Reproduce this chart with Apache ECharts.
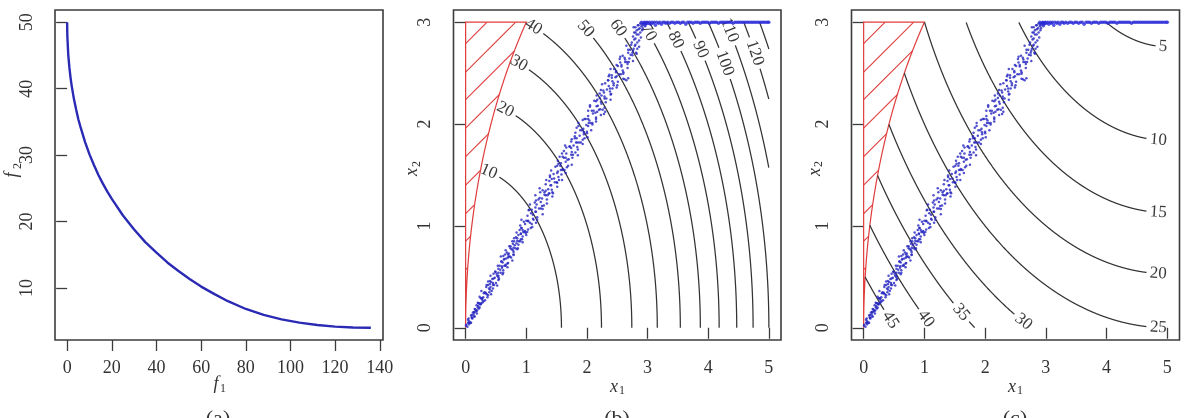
<!DOCTYPE html>
<html><head><meta charset="utf-8">
<script src="https://cdn.jsdelivr.net/npm/echarts@6/dist/echarts.min.js"></script>
<style>html,body{margin:0;padding:0;background:#fff}#c{width:1192px;height:418px}</style>
</head><body><div id="c"></div>
<script>
// ---------- data ----------
// (a) Pareto front
const PARETO_F1 = [0,0.02,0.1,0.5,1,1.5,2,3,4,5,6,8,10,12,14,16,18,20,25,30,35,40,45,50,55,60,66,72,80,88,96,104,112,120,128,136];
const PARETO_F2 = [50,49.0,47.8,45.1,43.2,41.7,40.5,38.5,36.9,35.4,34.2,32,30.1,28.5,27.0,25.7,24.5,23.4,20.9,18.8,16.9,15.3,13.8,12.5,11.3,10.2,9.06,8,6.83,5.94,5.27,4.77,4.41,4.17,4.04,4.0];
const F1_TICKS = [0,20,40,60,80,100,120,140];
const F2_TICKS = [10,20,30,40,50];
const X1_TICKS = [0,1,2,3,4,5];
const X2_TICKS = [0,1,2,3];

// (b) contours of f1 (circles about the origin)
const B_LEVELS = [10,20,30,40,50,60,70,80,90,100,110,120,130];
const B_RADII  = [1.58,2.24,2.74,3.16,3.54,3.87,4.18,4.47,4.74,5.00,5.24,5.48,5.70];
const B_CENTER = [0,0];
// (c) contours of f2 (circles about (5,5))
const C_LEVELS = [5,10,15,20,25,30,35,40,45];
const C_RADII  = [2.24,3.16,3.87,4.47,5.00,5.48,5.92,6.32,6.71];
const C_CENTER = [5,5];
// feasible-region boundary (infeasible part hatched in red)
const FEAS_CENTER = [5,0];
const FEAS_R = 5;
const HATCH_STARTS = [2.79,2.51,2.24,1.96,1.68,1.40,1.12,0.85,0.57,0.29];

// Pareto set samples (x1, x2)
const PARETO_SET = [
[0.01,0.03],[0.03,0.01],[0.04,0.05],[0.05,0.09],[0.06,0.05],[0.08,0.05],[0.09,0.12],[0.1,0.1],[0.11,0.09],[0.12,0.15],[0.13,0.13],[0.14,0.15],[0.15,0.11],[0.16,0.18],[0.17,0.16],[0.18,0.22],[0.19,0.17],[0.2,0.2],[0.21,0.24],[0.22,0.19],[0.23,0.24],[0.24,0.23],[0.25,0.29],[0.26,0.24],[0.27,0.29],[0.28,0.25],[0.29,0.3],[0.3,0.34],
[0.31,0.35],[0.32,0.27],[0.33,0.34],[0.345,0.42],[0.35,0.33],[0.36,0.3],[0.37,0.42],[0.385,0.385],[0.39,0.35],[0.4,0.46],[0.41,0.4],[0.42,0.45],[0.43,0.36],[0.44,0.48],[0.45,0.42],[0.46,0.53],[0.47,0.42],[0.48,0.49],[0.49,0.55],[0.5,0.44],[0.51,0.53],[0.52,0.51],[0.53,0.61],[0.54,0.51],[0.55,0.48],[0.56,0.61],[0.57,0.57],[0.58,0.54],[0.59,0.65],[0.6,0.59],[0.61,0.64],[0.62,0.54],[0.63,0.67],[0.64,0.61],[0.65,0.72],[0.66,0.61],[0.67,0.68],[0.68,0.74],[0.69,0.63],[0.7,0.72],[0.71,0.7],[0.72,0.8],[0.73,0.7],[0.74,0.78],[0.75,0.69],[0.76,0.77],[0.77,0.85],[0.78,0.76],[0.79,0.72],[0.8,0.85],[0.81,0.81],[0.82,0.78],[0.83,0.89],[0.84,0.83],[0.85,0.88],[0.86,0.78],[0.87,0.91],[0.88,0.85],[0.89,0.96],[0.9,0.85],[0.91,0.92],[0.92,0.98],[0.93,0.87],[0.94,0.96],[0.95,0.94],[0.96,1.04],[0.97,0.94],[0.98,1.02],[0.99,0.93],
[1.0,1.05],[1.015,0.94],[1.03,1.05],[1.045,1.16],[1.06,1.03],[1.075,0.98],[1.09,1.16],[1.11,1.11],[1.12,1.06],[1.14,1.23],[1.15,1.14],[1.17,1.21],[1.18,1.06],[1.2,1.26],[1.21,1.17],[1.23,1.33],[1.24,1.17],[1.26,1.27],[1.27,1.35],[1.29,1.2],[1.3,1.33],[1.32,1.3],[1.33,1.45],[1.35,1.3],[1.36,1.36],[1.38,1.32],[1.39,1.48],[1.41,1.4],[1.42,1.46],[1.44,1.32],[1.45,1.51],[1.47,1.43],[1.48,1.58],[1.5,1.43],[1.51,1.52],[1.53,1.61],[1.54,1.45],[1.56,1.59],[1.57,1.55],[1.59,1.71],[1.6,1.55],[1.62,1.67],[1.63,1.55],[1.65,1.67],[1.66,1.77],[1.68,1.65],[1.69,1.59],[1.71,1.78],[1.72,1.78],[1.74,1.7],[1.75,1.85],[1.77,1.7],[1.78,1.79],[1.8,1.88],[1.81,1.72],[1.83,1.86],[1.84,1.82],[1.86,1.98],[1.87,1.82],[1.89,1.94],[1.9,1.82],[1.92,1.94],[1.93,2.04],[1.95,1.92],[1.96,1.86],[1.98,2.05],[1.99,1.99],
[2.0,1.91],[2.02,2.05],[2.03,2.01],[2.05,2.17],[2.06,2.01],[2.08,2.13],[2.09,2.01],[2.11,2.13],[2.12,2.23],[2.14,2.11],[2.15,2.05],[2.17,2.24],[2.18,2.18],[2.2,2.14],[2.21,2.3],[2.23,2.22],[2.24,2.28],[2.26,2.14],[2.27,2.33],[2.29,2.25],[2.3,2.4],[2.32,2.25],[2.33,2.34],[2.35,2.43],[2.36,2.47],[2.38,2.35],[2.39,2.29],[2.41,2.48],[2.42,2.42],[2.44,2.38],[2.45,2.54],[2.47,2.46],[2.48,2.52],[2.5,2.38],[2.51,2.57],[2.53,2.49],[2.54,2.64],[2.56,2.49],[2.57,2.58],[2.59,2.67],[2.6,2.51],[2.62,2.65],[2.63,2.61],[2.65,2.77],[2.66,2.61],[2.68,2.73],[2.69,2.61],[2.71,2.73],
[2.65,2.43],[2.68,2.45],[2.62,2.44],[2.3,2.12],[2.28,2.1],[1.55,1.68],[1.15,1.3],[0.58,0.7],
[2.72,2.68],[2.74,2.8],[2.75,2.7],[2.76,2.86],[2.77,2.74],[2.78,2.9],[2.79,2.77],[2.8,2.95],[2.8,2.84],[2.81,2.7],[2.82,2.92],[2.83,2.8],[2.84,2.97],[2.85,2.88],[2.86,2.76],[2.87,2.94],[2.88,2.99],[2.89,2.85],[2.9,2.96],[2.91,2.92],[2.92,2.99],[2.93,2.97],[2.95,3.0],[2.97,2.98],[2.99,3.0],
[0.005,0.02],[0.056,0.035],[0.089,0.05],[0.059,0.065],[0.038,0.08],[0.107,0.095],[0.137,0.11],[0.101,0.125],[0.185,0.14],[0.14,0.155],[0.176,0.17],[0.149,0.185],[0.23,0.2],[0.206,0.215],[0.248,0.23],[0.2,0.245],[0.296,0.26],[0.275,0.275],[0.263,0.29],
[0.23,0.305],[0.37,0.32],[0.42,0.33],[0.33,0.345],[0.26,0.36],[0.4,0.375],[0.45,0.385],[0.34,0.4],[0.52,0.415],[0.4,0.43],[0.45,0.44],[0.37,0.455],[0.54,0.47],[0.46,0.485],[0.54,0.495],[0.41,0.51],[0.61,0.525],[0.54,0.54],[0.49,0.55],[0.62,0.565],[0.54,0.58],[0.69,0.595],[0.6,0.605],[0.66,0.62],
[0.7,0.635],[0.59,0.65],[0.77,0.66],[0.64,0.675],[0.7,0.69],[0.62,0.705],[0.79,0.715],[0.71,0.73],[0.79,0.745],[0.66,0.76],[0.85,0.77],[0.79,0.785],[0.74,0.8],[0.87,0.815],[0.78,0.825],[0.94,0.84],[0.85,0.855],[0.91,0.87],[0.8,0.88],[0.94,0.895],[1.0,0.91],[0.91,0.925],[0.84,0.935],[0.98,0.95],[1.03,0.965],[0.92,0.98],[1.1,0.99],
[0.9,1.005],[1.09,1.02],[1.16,1.03],[1.03,1.045],[0.92,1.06],[1.11,1.07],[1.18,1.085],[1.02,1.1],[1.27,1.115],[1.08,1.125],[1.16,1.14],[1.04,1.155],[1.27,1.165],[1.15,1.18],[1.26,1.195],[1.06,1.21],[1.34,1.22],[1.24,1.235],[1.16,1.25],[1.34,1.26],[1.22,1.275],[1.43,1.29],[1.3,1.305],[1.37,1.315],
[1.43,1.33],[1.32,1.345],[1.42,1.355],[1.22,1.37],[1.51,1.385],[1.4,1.4],[1.32,1.41],[1.51,1.425],[1.38,1.44],[1.59,1.45],[1.46,1.465],[1.53,1.48],[1.39,1.495],[1.58,1.505],[1.65,1.52],[1.52,1.535],[1.41,1.545],[1.6,1.56],[1.67,1.575],[1.51,1.59],[1.75,1.6],[1.57,1.615],[1.65,1.63],[1.52,1.64],
[1.7,1.655],[1.76,1.67],[1.6,1.68],[1.85,1.695],[1.66,1.71],[1.75,1.725],[1.62,1.735],[1.85,1.75],[1.74,1.765],[1.84,1.775],[1.64,1.79],[1.93,1.805],[1.82,1.82],[1.74,1.83],[1.93,1.845],[1.8,1.86],[2.01,1.87],[1.88,1.885],[1.95,1.9],[1.81,1.915],[2.0,1.925],[2.07,1.94],[1.94,1.955],[1.83,1.965],[2.02,1.98],[2.09,1.995],
[1.86,2.01],[2.15,2.025],[2.04,2.035],[1.96,2.05],[2.15,2.065],[2.02,2.08],[2.23,2.09],[2.1,2.105],[2.17,2.12],[2.02,2.13],[2.22,2.145],[2.29,2.16],[2.16,2.175],[2.05,2.185],[2.24,2.2],[2.31,2.215],[2.15,2.225],[2.39,2.24],[2.21,2.255],[2.29,2.27],[2.16,2.28],[2.4,2.295],[2.28,2.31],[2.38,2.32],
[2.23,2.335],[2.42,2.35],[2.49,2.36],[2.36,2.375],[2.25,2.39],[2.44,2.4],[2.51,2.415],[2.35,2.43],[2.6,2.445],[2.41,2.455],[2.49,2.47],[2.37,2.485],[2.6,2.495],[2.48,2.51],[2.59,2.525],[2.39,2.54],[2.67,2.55],[2.57,2.565],[2.49,2.58],[2.67,2.59],[2.55,2.605],[2.76,2.62],[2.63,2.635],[2.7,2.645],[2.55,2.66],[2.75,2.675],[2.82,2.69],[2.68,2.7],
[2.73,2.78],[2.76,2.72],[2.78,2.83],[2.8,2.78],[2.82,2.88],[2.83,2.74],[2.85,2.93],[2.86,2.82],[2.88,2.9],[2.9,2.98],[2.92,2.94],[2.94,2.99],[2.96,2.96],[2.98,2.99],[2.85,2.97],[2.8,2.9],[2.77,2.95]
];
const TOP_SET = [
[2.9,3],[2.93,2.99],[2.95,3],[2.97,2.98],[2.99,3],[3.01,2.99],[3.03,3],[3.05,2.98],[3.07,3],[3.09,2.99],[3.11,3],[3.13,2.97],[3.15,3],[3.18,2.99],[3.2,3],[3.23,2.98],[3.25,3],[3.28,3],[3.3,2.99],[3.33,3],[3.36,2.99],[3.39,3],[3.42,3],[3.45,2.99],[3.48,3],[3.51,3],[3.54,2.99],[3.57,3],[3.6,3],[3.63,2.98],[3.66,3],[3.69,3],[3.72,3],[3.75,2.99],[3.78,3],[3.81,3],[3.84,3],[3.87,2.99],[3.9,3],[3.93,3],[3.96,3],[3.99,3],[4.02,2.99],[4.05,3],[4.08,3],[4.11,3],[4.14,3],[4.17,2.99],[4.2,3],[4.23,3],[4.26,3],[4.29,3],[4.32,3],[4.35,3],[4.38,3],[4.41,2.99],[4.44,3],[4.47,3],[4.5,3],[4.53,3],[4.56,3],[4.59,3],[4.62,3],[4.65,3],[4.68,3],[4.71,3],[4.74,3],[4.77,3],[4.8,3],[4.83,3],[4.86,3],[4.89,3],[4.92,3],[4.95,3],[4.98,3],[5.0,3]
];

// ---------- layout / style ----------
const FONT = '"Liberation Serif", "DejaVu Serif", serif';
const LABEL_SIZE = 17;
const RED = '#e03c3c';
const INK = '#333';
const DOT = '#2626c0';
// label positions along each contour (angle about the circle centre, degrees)
const B_LABEL_ANG = [76,73,71.3,69.3,56,49.5,43.9,39.2,35.2,31.3,33.9,29.5,null];
const C_LABEL_ANG = [-91.8,-92.7,-92.2,-91.9,-91.7,-115.6,-125,-129,-132.8];

function inFeasible(x, y) {
  const e = 1e-9;
  return x >= -e && x <= 5 + e && y >= -e && y <= 3 + e &&
    (x - FEAS_CENTER[0]) ** 2 + (y - FEAS_CENTER[1]) ** 2 <= FEAS_R * FEAS_R + e;
}

function makeContour(center, radii, levels, labelAng) {
  return function (params, api) {
    const i = params.dataIndex;
    const r = radii[i];
    const la = labelAng[i];
    const text = la == null ? null : String(levels[i]);
    let lp = null, rot = 0, gap = 0;
    if (text) {
      const t = la * Math.PI / 180, d = 0.5 * Math.PI / 180;
      const P = a => api.coord([center[0] + r * Math.cos(a), center[1] + r * Math.sin(a)]);
      lp = P(t);
      const p1 = P(t - d), p2 = P(t + d);
      let dx = p2[0] - p1[0], dy = p2[1] - p1[1];
      if (dx < 0) { dx = -dx; dy = -dy; }
      rot = -Math.atan2(dy, dx);
      gap = text.length * LABEL_SIZE * 0.26 + 3;
    }
    const segs = []; let cur = [];
    for (let a = -180; a <= 180; a += 0.05) {
      const t = a * Math.PI / 180;
      const x = center[0] + r * Math.cos(t), y = center[1] + r * Math.sin(t);
      let ok = inFeasible(x, y), p = null;
      if (ok) {
        p = api.coord([x, y]);
        if (lp && Math.hypot(p[0] - lp[0], p[1] - lp[1]) < gap) ok = false;
      }
      if (ok) cur.push(p); else if (cur.length) { segs.push(cur); cur = []; }
    }
    if (cur.length) segs.push(cur);
    const children = segs.filter(s => s.length > 1).map(s => ({
      type: 'polyline', shape: { points: s }, silent: true,
      style: { stroke: INK, lineWidth: 1.25, fill: 'none' }
    }));
    if (text) children.push({
      type: 'text', x: lp[0], y: lp[1], rotation: rot, silent: true,
      style: { text, font: LABEL_SIZE + 'px ' + FONT, fill: '#3a3a3a', align: 'center', verticalAlign: 'middle' }
    });
    return { type: 'group', children };
  };
}

function redRegion(params, api) {
  const children = [];
  const pts = [api.coord([0, 0]), api.coord([0, 3])];
  const a0 = Math.atan2(3 - FEAS_CENTER[1], 1 - FEAS_CENTER[0]);
  for (let a = a0; a <= Math.PI + 1e-9; a += 0.002)
    pts.push(api.coord([FEAS_CENTER[0] + FEAS_R * Math.cos(a), FEAS_CENTER[1] + FEAS_R * Math.sin(a)]));
  pts.push(api.coord([0, 0]));
  children.push({ type: 'polyline', shape: { points: pts }, silent: true, style: { stroke: RED, lineWidth: 1.2, fill: 'none' } });
  const o = api.coord([0, 0]);
  const sx = api.coord([1, 0])[0] - o[0];
  const sy = o[1] - api.coord([0, 1])[1];
  HATCH_STARTS.forEach(c => {
    const p0 = api.coord([0, c]);
    let t = 0;
    while (t < 600) {
      const x = (t + 0.2) / sx, y = c + (t + 0.2) / sy;
      if (y > 3 || (x - FEAS_CENTER[0]) ** 2 + (y - FEAS_CENTER[1]) ** 2 <= FEAS_R * FEAS_R) break;
      t += 0.2;
    }
    children.push({ type: 'line', silent: true, shape: { x1: p0[0], y1: p0[1], x2: p0[0] + t, y2: p0[1] - t }, style: { stroke: RED, lineWidth: 1.1 } });
  });
  return { type: 'group', children };
}

const gridBase = { show: true, borderColor: '#3c3c3c', borderWidth: 1.6, backgroundColor: 'transparent' };
const grids = [
  Object.assign({ left: 55, top: 10, width: 328, height: 330 }, gridBase),
  Object.assign({ left: 453.5, top: 10, width: 327.5, height: 330 }, gridBase),
  Object.assign({ left: 851.5, top: 10, width: 328, height: 330 }, gridBase)
];
function axis(gi, min, max, ticks, isY) {
  return {
    type: 'value', gridIndex: gi, min, max,
    axisLine: { show: false }, splitLine: { show: false },
    axisTick: { show: true, length: 11, customValues: ticks, lineStyle: { color: '#3c3c3c', width: 1.3 } },
    axisLabel: { customValues: ticks, margin: 19, rotate: isY ? 90 : 0, color: INK, fontFamily: FONT, fontSize: 18 }
  };
}

function subTitle(x, y, main, sub, rot, dx, dy) {
  return {
    type: 'group', x, y, rotation: rot, silent: true,
    children: [
      { type: 'text', x: 0, y: 0, style: { text: main, font: 'italic 18px ' + FONT, fill: INK, align: 'center', verticalAlign: 'middle' } },
      { type: 'text', x: dx, y: dy, style: { text: sub, font: '12px ' + FONT, fill: INK, align: 'center', verticalAlign: 'middle' } }
    ]
  };
}
function caption(x, text) {
  return { type: 'text', x, y: 419, silent: true, style: { text, font: '22px ' + FONT, fill: INK, align: 'center', verticalAlign: 'middle' } };
}

const chart = echarts.init(document.getElementById('c'), null, { renderer: 'canvas' });
chart.setOption({
  animation: false,
  backgroundColor: '#fff',
  grid: grids,
  xAxis: [axis(0, -5.44, 141.44, F1_TICKS), axis(1, -0.2, 5.2, X1_TICKS), axis(2, -0.2, 5.2, X1_TICKS)],
  yAxis: [axis(0, 2.16, 51.84, F2_TICKS, true), axis(1, -0.12, 3.12, X2_TICKS, true), axis(2, -0.12, 3.12, X2_TICKS, true)],
  series: [
    { type: 'line', xAxisIndex: 0, yAxisIndex: 0, showSymbol: false, silent: true,
      data: PARETO_F1.map((f, i) => [f, PARETO_F2[i]]),
      lineStyle: { color: '#2a2ab4', width: 2.4 } },
    { type: 'custom', xAxisIndex: 1, yAxisIndex: 1, data: [[0, 0]], renderItem: redRegion, silent: true, clip: false },
    { type: 'custom', xAxisIndex: 1, yAxisIndex: 1, data: B_LEVELS.map((l, i) => [i, 0]), renderItem: makeContour(B_CENTER, B_RADII, B_LEVELS, B_LABEL_ANG), silent: true, clip: false },
    { type: 'scatter', xAxisIndex: 1, yAxisIndex: 1, data: PARETO_SET, symbolSize: 2.5, silent: true, itemStyle: { color: DOT } },
    { type: 'scatter', xAxisIndex: 1, yAxisIndex: 1, data: TOP_SET, symbolSize: 3.4, silent: true, itemStyle: { color: '#2a2ad8' } },
    { type: 'custom', xAxisIndex: 2, yAxisIndex: 2, data: [[0, 0]], renderItem: redRegion, silent: true, clip: false },
    { type: 'custom', xAxisIndex: 2, yAxisIndex: 2, data: C_LEVELS.map((l, i) => [i, 0]), renderItem: makeContour(C_CENTER, C_RADII, C_LEVELS, C_LABEL_ANG), silent: true, clip: false },
    { type: 'scatter', xAxisIndex: 2, yAxisIndex: 2, data: PARETO_SET, symbolSize: 2.5, silent: true, itemStyle: { color: DOT } },
    { type: 'scatter', xAxisIndex: 2, yAxisIndex: 2, data: TOP_SET, symbolSize: 3.4, silent: true, itemStyle: { color: '#2a2ad8' } }
  ],
  graphic: [
    subTitle(216, 384, 'f', '1', 0, 7, 5),
    subTitle(614, 387, 'x', '1', 0, 8, 4),
    subTitle(1012, 387, 'x', '1', 0, 8, 4),
    subTitle(12.5, 175, 'f', '2', Math.PI / 2, 9, 5),
    subTitle(412.5, 172, 'x', '2', Math.PI / 2, 8, 4),
    subTitle(815, 172, 'x', '2', Math.PI / 2, 8, 4),
    caption(218, '(a)'), caption(617, '(b)'), caption(1015, '(c)')
  ]
});
</script>
</body></html>
